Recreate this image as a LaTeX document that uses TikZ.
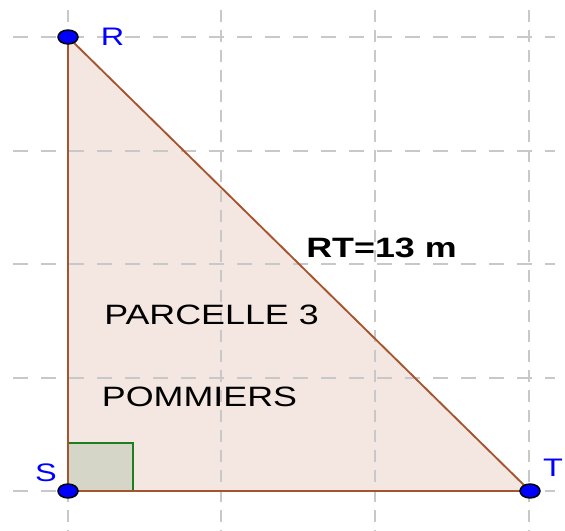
\documentclass[tikz,border=0pt]{standalone}
\usepackage{fontspec}
\setmainfont{Liberation Sans}
\usetikzlibrary{shapes.geometric}
\definecolor{gridgray}{RGB}{200,200,200}
\definecolor{edgebrown}{RGB}{165,85,45}
\definecolor{parcelfill}{RGB}{244,231,226}
\definecolor{angfill}{RGB}{214,214,200}
\definecolor{anggreen}{RGB}{30,125,30}
\definecolor{ptblue}{RGB}{0,0,255}
\tikzset{
  hgrid/.style={gridgray, line width=1.5pt, dash pattern=on 11.25pt off 9.75pt},
  vgrid/.style={gridgray, line width=1.5pt, dash pattern=on 9pt off 6pt},
  pointmark/.style={ellipse, draw=black, fill=ptblue, line width=1.1pt, minimum width=15pt, minimum height=10.5pt, inner sep=0pt},
  ptlabel/.style={text=ptblue, inner sep=0pt, font=\fontsize{19pt}{19pt}\selectfont},
  bodytext/.style={text=black, inner sep=0pt, font=\fontsize{21pt}{21pt}\selectfont},
  edgeline/.style={edgebrown, line width=1.4pt, line join=round},
}
\newcommand{\wide}[1]{\scalebox{1.28}[1]{#1}}
\begin{document}
\begin{tikzpicture}[x=0.75pt,y=-0.75pt]
\useasboundingbox (0,0) rectangle (565,531);
\coordinate (R) at (68,37);
\coordinate (S) at (68,491);
\coordinate (T) at (530,491);
\coordinate (Q1) at (133,491);
\coordinate (Q2) at (133,443);
\coordinate (Q3) at (68,443);
% fill of parcel
\fill[parcelfill] (R) -- (S) -- (T) -- cycle;
% grid
\foreach \x in {68,221,375,529} \draw[vgrid] (\x,10) -- (\x,531);
\foreach \y in {37,151,264,378,491} \draw[hgrid] (13,\y) -- (555,\y);
% right angle
\draw[anggreen, fill=angfill, line width=1.1pt] (S) -- (Q1) -- (Q2) -- (Q3) -- cycle;
% triangle edges
\draw[edgeline] (R) -- (S) -- (T) -- cycle;
% points
\node[pointmark] (Rp) at (R) {};
\node[pointmark] (Sp) at (S) {};
\node[pointmark] (Tp) at (T) {};
% labels
\node[ptlabel] (Rl) at (112.5,36.5) {\wide{R}};
\node[ptlabel] (Sl) at (46,472.5) {\wide{S}};
\node[ptlabel] (Tl) at (553,468) {\wide{T}};
\node[bodytext, font=\fontsize{21pt}{21pt}\selectfont\bfseries] (rt) at (381.5,248) {\wide{RT=13 m}};
\node[bodytext] (parc) at (211.5,315) {\wide{PARCELLE 3}};
\node[bodytext] (pomm) at (199.5,397) {\wide{POMMIERS}};
\end{tikzpicture}
\end{document}
